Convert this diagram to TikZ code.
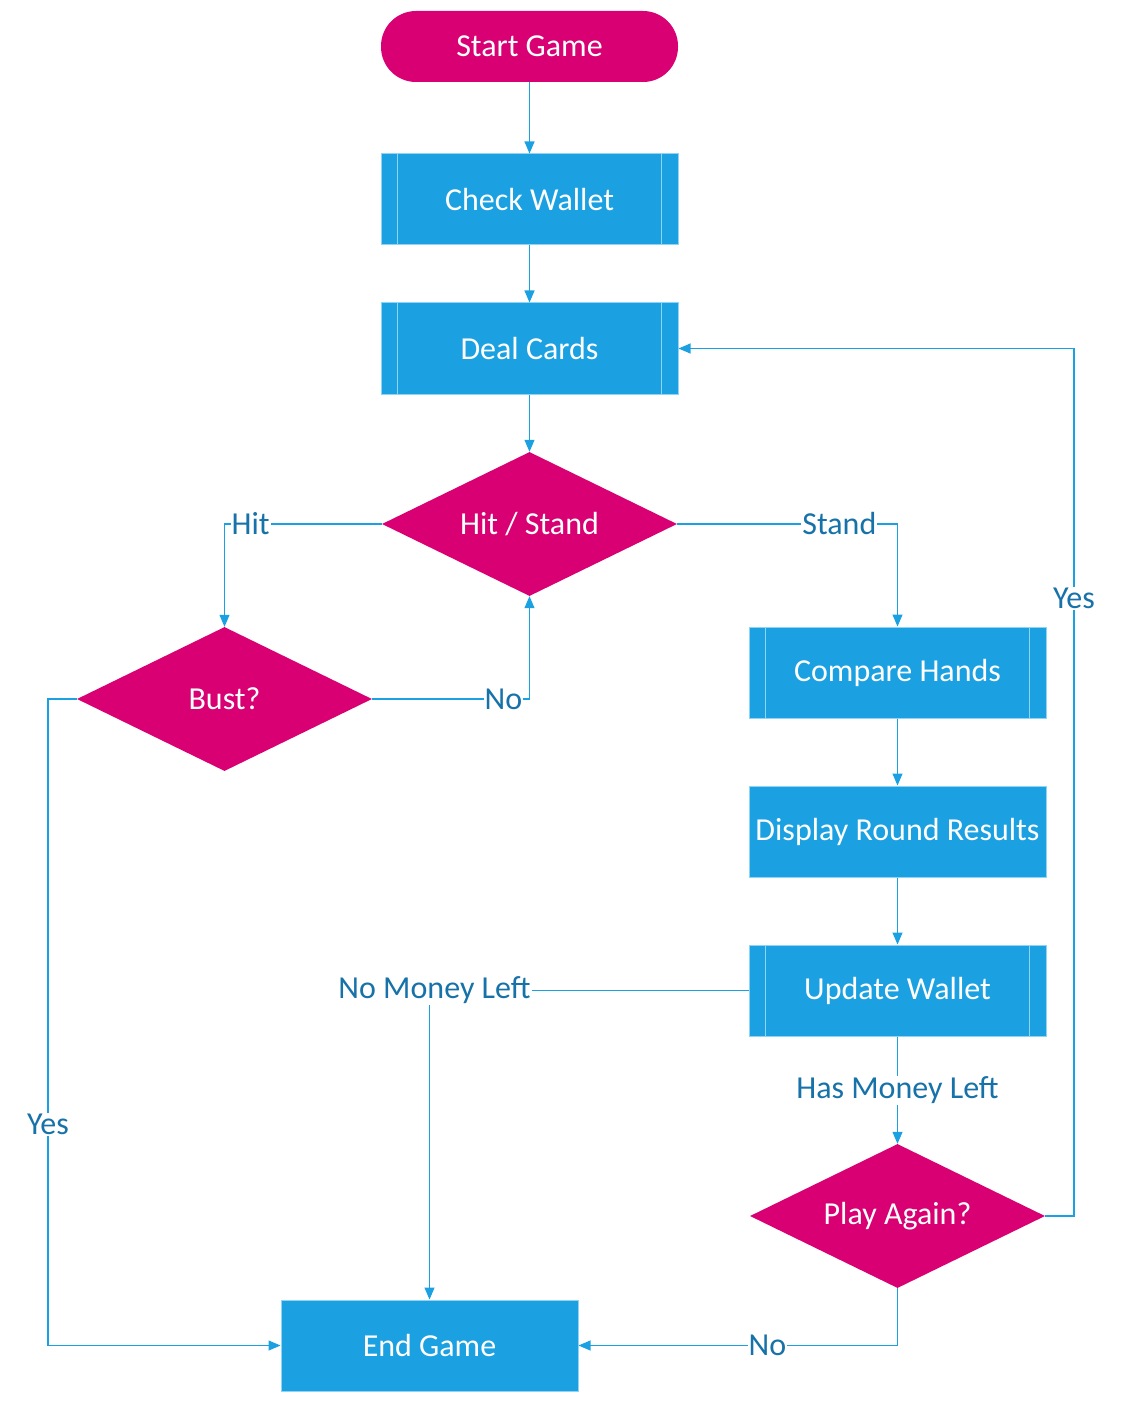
\documentclass[tikz,border=0pt]{standalone}
\usepackage{fontspec}
\setmainfont{Carlito}
\usetikzlibrary{arrows.meta,shapes.geometric,calc}
\definecolor{boxblue}{HTML}{1BA1E2}
\definecolor{mag}{HTML}{D80073}
\definecolor{linec}{HTML}{1BA1E2}
\definecolor{lblc}{HTML}{1672A8}
\definecolor{innerl}{HTML}{8FD3F5}
\begin{document}
\begin{tikzpicture}[x=1pt,y=-1pt,
  font=\fontsize{32}{38}\selectfont,
  proc/.style={rectangle, fill=boxblue, draw=innerl, line width=1pt, minimum width=297pt, minimum height=91pt, text=white, inner sep=0pt},
  term/.style={rectangle, rounded corners=35pt, fill=mag, minimum width=297pt, minimum height=71pt, text=white, inner sep=0pt},
  dec/.style={diamond, fill=mag, aspect=2.05, minimum width=295pt, minimum height=144pt, text=white, inner sep=0pt},
  conn/.style={draw=linec, line width=1.1pt, -{Triangle[length=12pt,width=10pt]}},
  lbl/.style={fill=white, text=lblc, inner sep=1pt},
  sub/.style={draw=innerl, line width=1.6pt}]
\useasboundingbox (0,0) rectangle (1122,1404);

\node[term] (start) at (529.5,46.5) {Start Game};
\node[proc] (check) at (529.5,199.5) {Check Wallet};
\node[proc] (deal) at (529.5,348.5) {Deal Cards};
\node[dec] (hs) at (529.5,524) {Hit / Stand};
\node[dec] (bust) at (224.5,699) {Bust?};
\node[proc] (cmp) at (897.5,672.5) {Compare Hands};
\node[proc] (disp) at (897.5,831.5) {Display Round Results};
\node[proc] (upd) at (897.5,990.5) {Update Wallet};
\node[dec] (pa) at (897.5,1216) {Play Again?};
\node[proc] (end) at (429.5,1345.5) {End Game};

\foreach \n in {check,deal,cmp,upd}{
  \draw[sub] ($(\n.north west)+(17,0)$) -- ($(\n.south west)+(17,0)$);
  \draw[sub] ($(\n.north east)+(-17,0)$) -- ($(\n.south east)+(-17,0)$);
}

\coordinate (bl) at (48,699);
\coordinate (pr) at (1074,1216);

\draw[conn] (start) -- (check);
\draw[conn] (check) -- (deal);
\draw[conn] (deal) -- (hs);
\draw[conn] (hs.west) -| node[lbl,pos=0.417]{Hit} (bust.north);
\draw[conn] (hs.east) -| node[lbl,pos=0.368]{Stand} (cmp.north);
\draw[conn] (bust.east) -| node[lbl,pos=0.417]{No} (hs.south);
\draw[conn] (bust.west) -- (bl) |- node[lbl,pos=0.329]{Yes} (end.west);
\draw[conn] (cmp) -- (disp);
\draw[conn] (disp) -- (upd);
\draw[conn] (upd.west) -| node[lbl,pos=0.5,xshift=5pt]{No Money Left} (end.north);
\draw[conn] (upd) -- node[lbl]{Has Money Left} (pa);
\draw[conn] (pa.south) |- node[lbl,pos=0.704]{No} (end.east);
\draw[conn] (pa.east) -- (pr) |- node[lbl,pos=0.356]{Yes} (deal.east);
\end{tikzpicture}
\end{document}
